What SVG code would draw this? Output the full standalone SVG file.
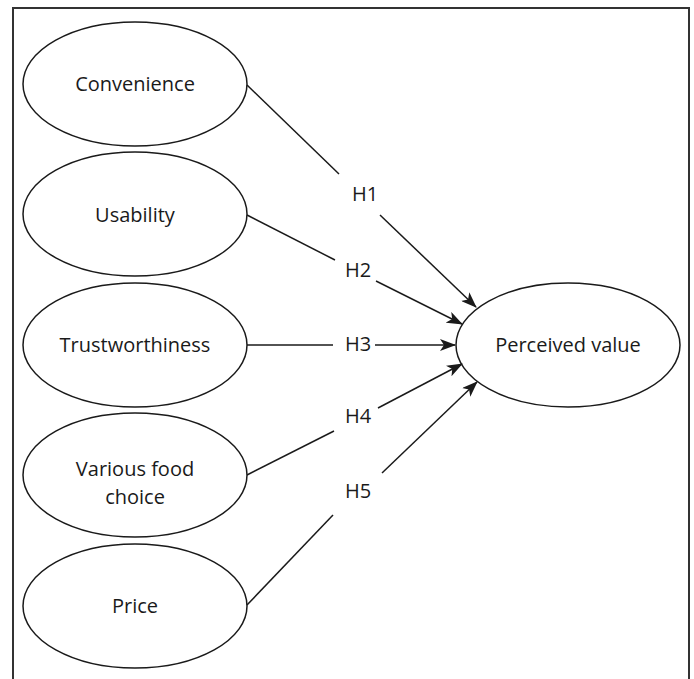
<svg xmlns="http://www.w3.org/2000/svg" width="694" height="679" viewBox="0 0 694 679">
<style>
.n{fill:#fff;stroke:#1a1a1a;stroke-width:1.5}
.t{font-family:"Open Sans","Liberation Sans",sans-serif;font-size:20px;fill:#1a1a1a;text-anchor:middle}
.c line{stroke:#1a1a1a;stroke-width:1.5}
</style>
<defs>
<marker id="ah" viewBox="0 0 16 12" refX="15" refY="6" markerWidth="16" markerHeight="12" markerUnits="userSpaceOnUse" orient="auto">
<path d="M0,0 L16,6 L0,12 L4,6 Z" fill="#1a1a1a"/>
</marker>
</defs>
<rect x="0" y="0" width="694" height="679" fill="#fff"/>
<path d="M13,690 V8 H689 V690" fill="none" stroke="#333" stroke-width="2"/>
<g id="convenience"><ellipse class="n" cx="135" cy="84" rx="112" ry="62"/><text class="t" x="135" y="91">Convenience</text></g>
<g id="usability"><ellipse class="n" cx="135" cy="214" rx="112" ry="62"/><text class="t" x="135" y="222">Usability</text></g>
<g id="trustworthiness"><ellipse class="n" cx="135" cy="345" rx="112" ry="62"/><text class="t" x="135" y="352">Trustworthiness</text></g>
<g id="food"><ellipse class="n" cx="135" cy="475" rx="112" ry="62"/><text class="t" x="135" y="476">Various food</text><text class="t" x="135" y="504">choice</text></g>
<g id="price"><ellipse class="n" cx="135" cy="606" rx="112" ry="62"/><text class="t" x="135" y="613">Price</text></g>
<g id="perceived"><ellipse class="n" cx="568" cy="345" rx="112" ry="62"/><text class="t" x="568" y="352">Perceived value</text></g>
<g id="connectors" class="c">
<line x1="247" y1="85" x2="339" y2="174"/>
<line x1="380" y1="215" x2="476" y2="307" marker-end="url(#ah)"/>
<line x1="247" y1="215" x2="335" y2="260"/>
<line x1="376" y1="281" x2="462" y2="324" marker-end="url(#ah)"/>
<line x1="247" y1="345" x2="333" y2="345"/>
<line x1="375" y1="345" x2="455" y2="345" marker-end="url(#ah)"/>
<line x1="247" y1="475" x2="334" y2="431"/>
<line x1="378" y1="408" x2="462" y2="364" marker-end="url(#ah)"/>
<line x1="247" y1="605" x2="333" y2="515"/>
<line x1="382" y1="473" x2="477" y2="382" marker-end="url(#ah)"/>
<text class="t" x="365" y="201">H1</text>
<text class="t" x="358" y="277">H2</text>
<text class="t" x="358" y="351">H3</text>
<text class="t" x="358" y="423">H4</text>
<text class="t" x="358" y="498">H5</text>
</g>
</svg>
